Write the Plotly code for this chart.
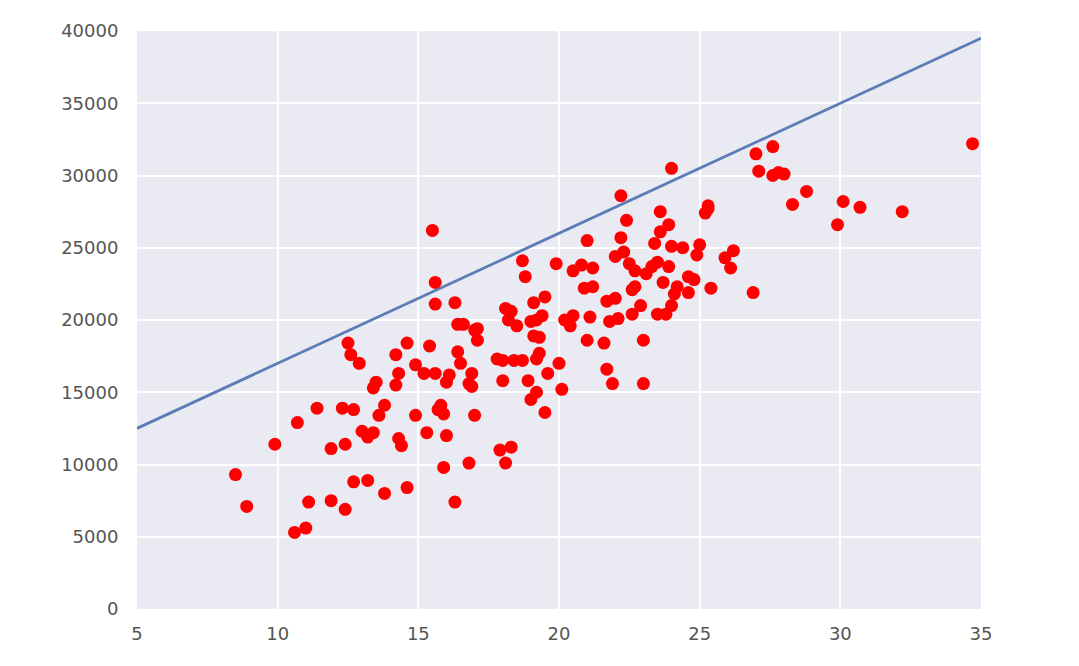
import plotly.graph_objects as go

x_vals = [8.5, 8.9, 9.9, 10.7, 10.6, 11.0, 11.1, 11.4, 11.9, 11.9, 12.3, 12.4, 12.4,
          12.5, 12.6, 12.7, 12.7, 12.9, 13.0, 13.2, 13.2, 13.4, 13.5, 13.4, 13.6, 13.8,
          13.8, 14.2, 14.3, 14.2, 14.3, 14.4, 14.6, 14.6, 14.9, 14.9, 15.2, 15.3, 15.4,
          15.5, 15.6, 15.6, 15.6, 15.7, 15.8, 15.9, 15.9, 16.0, 16.1, 16.0, 16.3, 16.3,
          16.4, 16.4, 16.5, 16.6, 16.8, 16.9, 16.9, 17.0, 16.8, 17.0, 17.1, 17.1,
          17.8, 17.9, 18.0, 18.0, 18.1, 18.3, 18.1, 18.2, 18.3, 18.4, 18.5, 18.7, 18.8,
          18.7, 18.9, 19.0, 19.1, 19.1, 19.2, 19.3, 19.3, 19.4, 19.5, 19.6, 19.5, 19.2,
          19.0, 19.2, 19.9, 20.0, 20.1, 20.2, 20.4, 20.5, 20.5, 20.8, 20.9, 21.0, 21.0,
          21.2, 21.2, 21.1, 21.6, 21.7, 21.9, 21.7, 21.8, 22.0, 22.1, 22.0, 22.2, 22.2,
          22.3, 22.4, 22.5, 22.6, 22.7, 22.7, 22.9, 23.0, 23.0, 22.6, 23.1, 23.3, 23.4,
          23.6, 23.5, 23.6, 23.7, 23.5, 23.8, 23.9, 24.0, 23.9, 24.0, 24.1, 24.2, 24.0,
          24.4, 24.6, 24.8, 24.6, 24.9, 25.0, 25.2, 25.3, 25.3, 25.4, 25.9, 26.1, 26.2,
          26.9, 27.0, 27.1, 27.6, 27.6, 27.8, 28.0, 28.3, 28.8, 29.9, 30.1, 30.7, 32.2,
          34.7]
y_vals = [9300, 7100, 11400, 12900, 5300, 5600, 7400, 13900, 7500, 11100, 13900, 11400, 6900,
          18400, 17600, 8800, 13800, 17000, 12300, 11900, 8900, 15300, 15700, 12200, 13400, 14100,
          8000, 17600, 16300, 15500, 11800, 11300, 8400, 18400, 13400, 16900, 16300, 12200, 18200,
          26200, 16300, 22600, 21100, 13800, 14100, 13500, 9800, 15700, 16200, 12000, 7400, 21200,
          19700, 17800, 17000, 19700, 10100, 16300, 15400, 13400, 15600, 19300, 18600, 19400,
          17300, 11000, 15800, 17200, 10100, 11200, 20800, 20000, 20600, 17200, 19600, 24100, 23000,
          17200, 15800, 14500, 18900, 21200, 17300, 18800, 17700, 20300, 21600, 16300, 13600, 15000,
          19900, 20000, 23900, 17000, 15200, 20000, 19600, 20300, 23400, 23800, 22200, 25500, 18600,
          22300, 23600, 20200, 18400, 16600, 15600, 21300, 19900, 21500, 20100, 24400, 25700, 28600,
          24700, 26900, 23900, 22100, 22300, 23400, 21000, 18600, 15600, 20400, 23200, 23700, 25300,
          26100, 24000, 27500, 22600, 20400, 20400, 26600, 25100, 23700, 30500, 21800, 22300, 21000,
          25000, 23000, 22800, 21900, 24500, 25200, 27400, 27700, 27900, 22200, 24300, 23600, 24800,
          21900, 31500, 30300, 32000, 30000, 30200, 30100, 28000, 28900, 26600, 28200, 27800, 27500,
          32200]

line_x = [5, 35]
line_y = [12500, 39500]

x_ticks = [5, 10, 15, 20, 25, 30, 35]
y_ticks = [0, 5000, 10000, 15000, 20000, 25000, 30000, 35000, 40000]

fig = go.Figure()
fig.add_trace(go.Scatter(x=line_x, y=line_y, mode="lines",
                         line=dict(color="#5A7DB5", width=2.8), showlegend=False))
fig.add_trace(go.Scatter(x=x_vals, y=y_vals, mode="markers",
                         marker=dict(color="#FF0000", size=13, line=dict(width=0)),
                         showlegend=False))

fig.update_layout(
    width=1079, height=666,
    margin=dict(l=129, r=106, t=20, b=65),
    paper_bgcolor="white",
    plot_bgcolor="#EAEAF2",
    font=dict(family="DejaVu Sans, sans-serif", size=18, color="#555555"),
    xaxis=dict(range=[5, 35], tickvals=x_ticks, ticktext=[str(v) for v in x_ticks],
               showgrid=True, gridcolor="white", gridwidth=1.5, zeroline=False,
               showline=False, ticks="outside", ticklen=8, tickcolor="rgba(0,0,0,0)"),
    yaxis=dict(range=[0, 40000], tickvals=y_ticks, ticktext=[str(v) for v in y_ticks],
               showgrid=True, gridcolor="white", gridwidth=1.5, zeroline=False,
               showline=False, ticks="outside", ticklen=14, tickcolor="rgba(0,0,0,0)"),
)

fig.write_html("out.html")
